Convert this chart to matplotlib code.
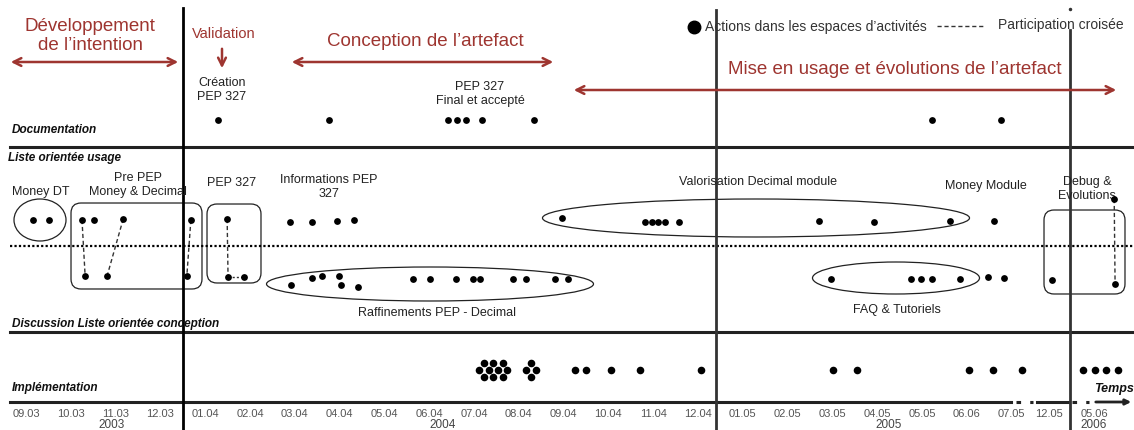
import matplotlib.pyplot as plt
from matplotlib.patches import Ellipse, FancyBboxPatch

plt.rcParams['font.family'] = ['Liberation Sans', 'DejaVu Sans']

# time axis (months since 09.2003, the end of 2005 is compressed)
tick_labels = ['09.03', '10.03', '11.03', '12.03', '01.04', '02.04', '03.04', '04.04',
               '05.04', '06.04', '07.04', '08.04', '09.04', '10.04', '11.04', '12.04',
               '01.05', '02.05', '03.05', '04.05', '05.05', '06.06', '07.05', '12.05', '05.06']
tick_pos = list(range(23)) + [22.83, 23.84]
years = ['2003', '2004', '2005', '2006']
year_pos = [1.9, 9.3, 19.25, 23.84]

# actions per activity space (month position, small vertical shift)
doc_months = [4.29, 6.76, 9.42, 9.62, 9.82, 10.18, 11.34, 20.22, 21.76]

usage_months = [0.16, 0.51, 1.25, 1.52, 2.17, 3.68, 4.49, 5.89, 6.38, 6.94, 7.32,
                11.96, 13.82, 13.97, 14.11, 14.26, 14.57, 17.7, 18.93, 20.63, 21.6, 24.29]
usage_shift = [0, 0, 0, 0, -1, 0, -1, 2, 2, 1, 0,
               -2, 2, 2, 2, 2, 2, 1, 2, 1, 1, -21]

disc_months = [1.32, 1.81, 3.59, 4.51, 4.87,
               5.92, 6.38, 6.61, 6.99, 7.03, 7.41, 8.64, 9.02, 9.6, 9.98, 10.13, 10.87,
               11.16, 11.81, 12.1,
               17.97, 19.75, 19.98, 20.22, 20.85, 21.47, 21.83, 22.9, 24.31]
disc_shift = [0, 0, 0, 1, 1,
              9, 2, 0, 0, 9, 11, 3, 3, 3, 3, 3, 3,
              3, 3, 3,
              3, 3, 3, 3, 3, 1, 2, 4, 8]

impl_months = [10.22, 10.42, 10.65, 10.11, 10.33, 10.54, 10.74, 10.22, 10.42, 10.65,
               11.27, 11.16, 11.38, 11.27,
               12.25, 12.5, 13.06, 13.7, 15.07, 18.01, 18.55, 21.05, 21.58, 22.23,
               23.6, 23.87, 24.1, 24.38]
impl_stack = [-1, -1, -1, 0, 0, 0, 0, 1, 1, 1,
              -1, 0, 0, 1,
              0, 0, 0, 0, 0, 0, 0, 0, 0, 0,
              0, 0, 0, 0]

# participation croisee: (usage month, discussion month)
cross_links = [(1.25, 1.32), (2.17, 1.81), (3.68, 3.59), (4.49, 4.51), (24.29, 24.31)]

RED = '#9e3530'
PX = 44.8  # pixels per month


def mx(px):
    return (px - 26) / PX


fig = plt.figure(figsize=(11.34, 4.30), dpi=100)
ax = fig.add_axes([0, 0, 1, 1])
ax.set_xlim(mx(0), mx(1134))
ax.set_ylim(430, 0)
ax.axis('off')

Y_DOC, Y_USE, Y_DISC, Y_IMPL = 120, 220, 276, 370

# lane separators
for y in (147, 332):
    ax.plot([mx(10), mx(1134)], [y, y], color='#222222', lw=2.2)
ax.plot([mx(10), mx(1134)], [246, 246], color='black', lw=1.6, ls=(0, (1, 1)))

# time axis with breaks
ax.plot([mx(10), mx(1011)], [402, 402], color='#222222', lw=2.2)
ax.plot([mx(1016), mx(1033)], [402, 402], color='#222222', lw=2.2, ls=(0, (1.5, 3)))
ax.plot([mx(1037), mx(1068)], [402, 402], color='#222222', lw=2.2)
ax.plot([mx(1072), mx(1089)], [402, 402], color='#222222', lw=2.2, ls=(0, (1.5, 3)))
ax.annotate('', xy=(mx(1134), 402), xytext=(mx(1093), 402),
            arrowprops=dict(arrowstyle='-|>', color='#222222', lw=2, mutation_scale=8))

# phase boundaries
ax.plot([mx(183), mx(183)], [8, 430], color='black', lw=2)
ax.plot([mx(716), mx(716)], [10, 430], color='#333333', lw=2)
ax.plot([mx(1070), mx(1070)], [30, 430], color='#333333', lw=2)
ax.plot([mx(1070)], [9], marker='o', ms=1.5, color='#333333')

# row labels
row_kw = dict(fontsize=8.5, fontweight='bold', fontstyle='italic', color='#111111', va='center')
ax.text(mx(12), 130, 'Documentation', **row_kw)
ax.text(mx(8), 158, 'Liste orientée usage', **row_kw)
ax.text(mx(12), 324, 'Discussion Liste orientée conception', **row_kw)
ax.text(mx(12), 388, 'Implémentation', **row_kw)
ax.text(mx(1134), 389, 'Temps', ha='right', fontsize=9,
        fontweight='bold', fontstyle='italic', color='#111111', va='center')

# ticks
for p, lab in zip(tick_pos, tick_labels):
    ax.text(p, 414, lab, ha='center', va='center', fontsize=8, color='#555555')
for p, lab in zip(year_pos, years):
    ax.text(p, 425, lab, ha='center', va='center', fontsize=8.5, color='#444444')

# phases
ax.text(mx(90), 36, 'Développement\nde l\u2019intention', ha='center', va='center',
        fontsize=13.5, color=RED, linespacing=1.15)
ax.annotate('', xy=(mx(8), 62), xytext=(mx(181), 62),
            arrowprops=dict(arrowstyle='<->', color=RED, lw=1.8, mutation_scale=14))
ax.text(mx(224), 34, 'Validation', ha='center', va='center', fontsize=10.5, color=RED)
ax.annotate('', xy=(mx(222), 71), xytext=(mx(222), 46),
            arrowprops=dict(arrowstyle='->', color=RED, lw=1.8, mutation_scale=14))
ax.text(mx(425), 41, 'Conception de l\u2019artefact', ha='center', va='center',
        fontsize=13.5, color=RED)
ax.annotate('', xy=(mx(289), 62), xytext=(mx(556), 62),
            arrowprops=dict(arrowstyle='<->', color=RED, lw=1.8, mutation_scale=14))
ax.text(mx(895), 70, 'Mise en usage et évolutions de l\u2019artefact', ha='center', va='center',
        fontsize=13.5, color=RED)
ax.annotate('', xy=(mx(571), 90), xytext=(mx(1119), 90),
            arrowprops=dict(arrowstyle='<->', color=RED, lw=1.8, mutation_scale=14))

# legend
ax.plot([mx(694)], [27], 'o', color='black', ms=9)
ax.text(mx(705), 27, 'Actions dans les espaces d\u2019activités', va='center',
        fontsize=10, color='#333333')
ax.plot([mx(937), mx(985)], [26, 26], color='#333333', lw=1, ls=(0, (3, 2)))
ax.text(mx(998), 25, 'Participation croisée', va='center', fontsize=10, color='#333333')

# group labels
lab_kw = dict(ha='center', va='center', fontsize=9, color='#222222', linespacing=1.2)
ax.text(mx(222), 90, 'Création\nPEP 327', **lab_kw)
ax.text(mx(480), 94, 'PEP 327\nFinal et accepté', **lab_kw)
ax.text(mx(41), 192, 'Money DT', **lab_kw)
ax.text(mx(138), 185, 'Pre PEP\nMoney & Decimal', **lab_kw)
ax.text(mx(232), 183, 'PEP 327', **lab_kw)
ax.text(mx(329), 187, 'Informations PEP\n327', **lab_kw)
ax.text(mx(758), 182, 'Valorisation Decimal module', **lab_kw)
ax.text(mx(986), 186, 'Money Module', **lab_kw)
ax.text(mx(1087), 189, 'Debug &\nEvolutions', **lab_kw)
ax.text(mx(437), 313, 'Raffinements PEP - Decimal', **lab_kw)
ax.text(mx(897), 310, 'FAQ & Tutoriels', **lab_kw)

# group shapes
shape_kw = dict(fill=False, edgecolor='#222222', lw=0.9)
ax.add_patch(Ellipse((mx(40), 220), 52 / PX, 42, **shape_kw))
ax.add_patch(Ellipse((mx(430), 284), 327 / PX, 34, **shape_kw))
ax.add_patch(Ellipse((mx(756), 218), 427 / PX, 38, **shape_kw))
ax.add_patch(Ellipse((mx(896), 278), 167 / PX, 32, **shape_kw))
for x0, x1, y0, y1 in [(71, 202, 203, 289), (207, 261, 204, 283), (1044, 1125, 210, 294)]:
    ax.add_patch(FancyBboxPatch((mx(x0 + 10), y0 + 10), (x1 - x0 - 20) / PX, y1 - y0 - 20,
                                boxstyle='round,pad=0.223,rounding_size=0.223',
                                mutation_aspect=PX, **shape_kw))

# cross participation links
for mu, md in cross_links:
    yu = Y_USE + usage_shift[usage_months.index(mu)]
    yd = Y_DISC + disc_shift[disc_months.index(md)]
    ax.plot([mu, md], [yu, yd], color='#333333', lw=1, ls=(0, (3, 2)))
ax.plot([4.51, 4.87], [Y_DISC + 1, Y_DISC + 1], color='#333333', lw=1, ls=(0, (1.5, 1.5)))

# actions
dot = dict(s=24, color='black', zorder=3, linewidths=0)
ax.scatter(doc_months, [Y_DOC] * len(doc_months), **dot)
ax.scatter(usage_months, [Y_USE + s for s in usage_shift], **dot)
ax.scatter(disc_months, [Y_DISC + s for s in disc_shift], **dot)
ax.scatter(impl_months, [Y_IMPL + 7 * s for s in impl_stack], s=30, color='black',
           zorder=3, linewidths=0)

fig.savefig('out.png', dpi=100)
